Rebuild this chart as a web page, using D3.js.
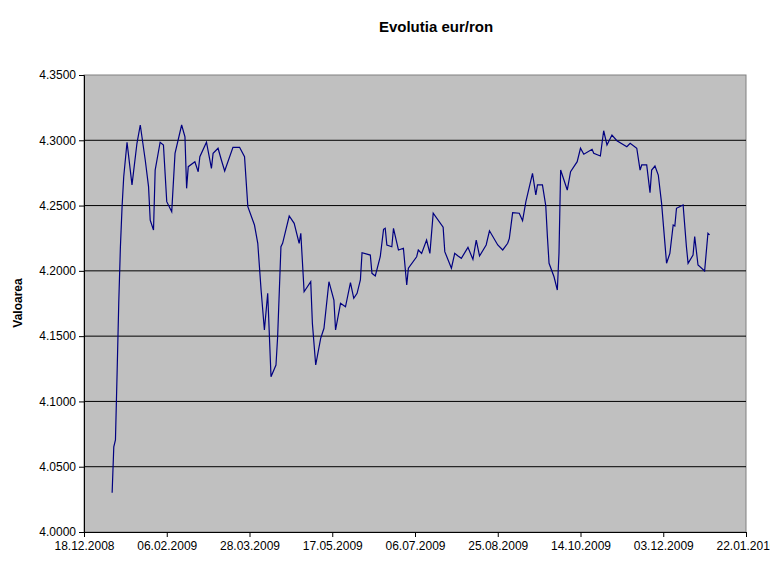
<!DOCTYPE html>
<html>
<head>
<meta charset="utf-8">
<script src="https://cdn.jsdelivr.net/npm/d3@7"></script>
<style>
body { margin: 0; background: #fff; }
text { font-family: Arial, "Liberation Sans", sans-serif; }
</style>
</head>
<body>
<svg id="chart" width="770" height="571"></svg>
<script>
var dates = ["2009-01-04","2009-01-05","2009-01-06","2009-01-07","2009-01-08","2009-01-09","2009-01-10","2009-01-11","2009-01-13","2009-01-16",
  "2009-01-19","2009-01-21","2009-01-24","2009-01-26","2009-01-27","2009-01-29","2009-01-30","2009-02-02","2009-02-04","2009-02-06",
  "2009-02-09","2009-02-11","2009-02-15","2009-02-17","2009-02-18","2009-02-19","2009-02-23","2009-02-25","2009-02-26","2009-03-02",
  "2009-03-05","2009-03-06","2009-03-09","2009-03-11","2009-03-13","2009-03-18","2009-03-22","2009-03-25","2009-03-27","2009-03-31",
  "2009-04-02","2009-04-04","2009-04-06","2009-04-08","2009-04-10","2009-04-13","2009-04-14","2009-04-16","2009-04-17","2009-04-21",
  "2009-04-24","2009-04-27","2009-04-28","2009-04-30","2009-05-04","2009-05-05","2009-05-07","2009-05-10","2009-05-12","2009-05-15",
  "2009-05-18","2009-05-19","2009-05-22","2009-05-25","2009-05-28","2009-05-30","2009-06-01","2009-06-03","2009-06-04","2009-06-09",
  "2009-06-10","2009-06-12","2009-06-15","2009-06-17","2009-06-18","2009-06-19","2009-06-22","2009-06-23","2009-06-26","2009-06-29",
  "2009-07-01","2009-07-02","2009-07-07","2009-07-08","2009-07-10","2009-07-13","2009-07-15","2009-07-17","2009-07-23","2009-07-24",
  "2009-07-28","2009-07-30","2009-08-01","2009-08-03","2009-08-07","2009-08-10","2009-08-12","2009-08-14","2009-08-18","2009-08-20",
  "2009-08-25","2009-08-28","2009-08-31","2009-09-01","2009-09-03","2009-09-07","2009-09-09","2009-09-11","2009-09-15","2009-09-17",
  "2009-09-18","2009-09-21","2009-09-23","2009-09-24","2009-09-25","2009-09-28","2009-09-30","2009-10-01","2009-10-02","2009-10-06",
  "2009-10-08","2009-10-12","2009-10-14","2009-10-16","2009-10-21","2009-10-22","2009-10-26","2009-10-27","2009-10-28","2009-10-30",
  "2009-11-02","2009-11-05","2009-11-11","2009-11-13","2009-11-17","2009-11-19","2009-11-20","2009-11-23","2009-11-25","2009-11-26",
  "2009-11-28","2009-11-30","2009-12-02","2009-12-05","2009-12-07","2009-12-09","2009-12-10","2009-12-11","2009-12-15","2009-12-17",
  "2009-12-18","2009-12-21","2009-12-22","2009-12-24","2009-12-28","2009-12-30","2009-12-31"];

var values = [4.0301,4.0653,4.0705,4.1218,4.1754,4.2185,4.2491,4.2721,4.2985,4.2658,
  4.2977,4.3117,4.2849,4.2645,4.2389,4.2313,4.2772,4.2985,4.2964,4.2530,
  4.2453,4.2900,4.3117,4.3027,4.2632,4.2798,4.2836,4.2759,4.2874,4.2985,
  4.2785,4.2900,4.2939,4.2849,4.2765,4.2946,4.2946,4.2874,4.2491,4.2351,
  4.2211,4.1853,4.1547,4.1828,4.1189,4.1279,4.1496,4.2185,4.2211,4.2420,
  4.2364,4.2211,4.2288,4.1840,4.1917,4.1598,4.1279,4.1483,4.1560,4.1917,
  4.1777,4.1547,4.1751,4.1725,4.1909,4.1790,4.1828,4.1930,4.2139,4.2121,
  4.1981,4.1961,4.2108,4.2318,4.2326,4.2198,4.2185,4.2326,4.2160,4.2173,
  4.1892,4.2020,4.2108,4.2160,4.2134,4.2236,4.2134,4.2441,4.2334,4.2147,
  4.2020,4.2134,4.2114,4.2096,4.2180,4.2088,4.2236,4.2114,4.2198,4.2307,
  4.2198,4.2160,4.2211,4.2249,4.2445,4.2441,4.2384,4.2530,4.2747,4.2581,
  4.2658,4.2658,4.2500,4.2262,4.2058,4.1955,4.1853,4.2134,4.2772,4.2619,
  4.2759,4.2836,4.2939,4.2893,4.2931,4.2900,4.2880,4.2977,4.3073,4.2964,
  4.3040,4.2997,4.2951,4.2977,4.2939,4.2772,4.2811,4.2811,4.2599,4.2772,
  4.2803,4.2734,4.2517,4.2058,4.2134,4.2351,4.2343,4.2479,4.2504,4.2185,
  4.2058,4.2121,4.2262,4.2045,4.1999,4.2288,4.2275];

var xTicks = ["2008-12-18","2009-02-06","2009-03-28","2009-05-17","2009-07-06","2009-08-25","2009-10-14","2009-12-03","2010-01-22"];
var yTicks = [4.00, 4.05, 4.10, 4.15, 4.20, 4.25, 4.30, 4.35];

var parse = d3.timeParse("%Y-%m-%d");
var data = dates.map(function (d, i) { return { date: parse(d), value: values[i] }; });

var margin = { left: 84, top: 75, right: 24, bottom: 39 };
var width = 770 - margin.left - margin.right;
var height = 571 - margin.top - margin.bottom;

var svg = d3.select("#chart");
var g = svg.append("g").attr("transform", "translate(" + margin.left + "," + margin.top + ")");

var x = d3.scaleTime().domain([parse(xTicks[0]), parse(xTicks[xTicks.length - 1])]).range([0, width]);
var y = d3.scaleLinear().domain([4.0, 4.35]).range([height, 0]);

g.append("rect").attr("width", width).attr("height", height)
    .attr("fill", "#c0c0c0").attr("stroke", "#808080");

g.selectAll(".grid").data(yTicks.slice(1, -1)).enter().append("line")
    .attr("x1", 0).attr("x2", width)
    .attr("y1", function (d) { return y(d); }).attr("y2", function (d) { return y(d); })
    .attr("stroke", "#000").attr("stroke-width", 1);

// axes
var xAxis = g.append("g").attr("transform", "translate(0," + height + ")")
    .call(d3.axisBottom(x).tickValues(xTicks.map(parse)).tickFormat(d3.timeFormat("%d.%m.%Y")).tickSizeOuter(0).tickSize(5));
var yAxis = g.append("g")
    .call(d3.axisLeft(y).tickValues(yTicks).tickFormat(d3.format(".4f")).tickSizeOuter(0).tickSize(5));
[xAxis, yAxis].forEach(function (a) {
    a.selectAll("path, line").attr("stroke", "#000");
    a.selectAll("text").attr("font-size", 12).attr("fill", "#000")
        .style("font-family", "Arial, 'Liberation Sans', sans-serif");
});
yAxis.selectAll("text").attr("x", -8);
xAxis.selectAll("text").attr("y", 9);

var line = d3.line().x(function (d) { return x(d.date); }).y(function (d) { return y(d.value); });
g.append("path").datum(data).attr("d", line)
    .attr("fill", "none").attr("stroke", "#000080").attr("stroke-width", 1.2);

svg.append("text").attr("x", 436).attr("y", 32).attr("text-anchor", "middle")
    .attr("font-size", 15).attr("font-weight", "bold").text("Evolutia eur/ron");

svg.append("text").attr("transform", "translate(22,303) rotate(-90)")
    .attr("text-anchor", "middle").attr("font-size", 12).attr("font-weight", "bold").text("Valoarea");
</script>
</body>
</html>
